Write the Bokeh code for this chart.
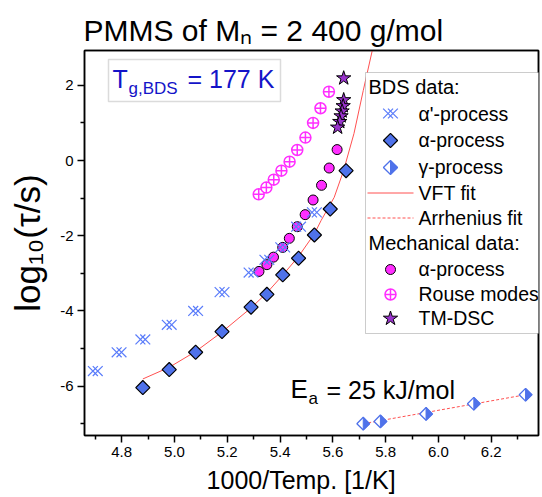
import numpy as np
from bokeh.plotting import figure
from bokeh.models import (Label, BoxAnnotation, FixedTicker, LinearAxis,
                          PrintfTickFormatter, ColumnDataSource, Range1d)
from bokeh.transform import dodge
from bokeh.embed import file_html
from bokeh.resources import INLINE

# ---------------- data ----------------
alpha_prime_x = [4.70, 4.79, 4.88, 4.98, 5.08, 5.18, 5.29, 5.35, 5.41, 5.47, 5.53]
alpha_prime_y = [-5.60, -5.10, -4.76, -4.37, -4.00, -3.50, -2.98, -2.64, -2.31, -1.76, -1.38]

alpha_bds_x = [4.88, 4.98, 5.08, 5.18, 5.29, 5.35, 5.41, 5.47, 5.53, 5.59, 5.65]
alpha_bds_y = [-6.04, -5.56, -5.10, -4.55, -3.90, -3.56, -3.04, -2.60, -1.98, -1.29, -0.27]

gamma_x = [5.715, 5.78, 5.953, 6.134, 6.33]
gamma_y = [-7.00, -6.94, -6.74, -6.47, -6.23]

vft_x = [4.88, 4.98, 5.08, 5.18, 5.29, 5.35, 5.41, 5.47, 5.53, 5.555, 5.605, 5.64, 5.68, 5.715, 5.75]
vft_y = [-5.81, -5.50, -5.08, -4.56, -3.92, -3.52, -3.05, -2.55, -1.95, -1.60, -0.98, -0.28, 0.72, 1.86, 2.95]

arr_x = [5.715, 6.33]
arr_y = [-7.00, -6.23]

mech_alpha_x = [5.32, 5.35, 5.375, 5.41, 5.435, 5.465, 5.495, 5.525, 5.557, 5.586, 5.616]
mech_alpha_y = [-2.95, -2.77, -2.57, -2.31, -2.07, -1.76, -1.44, -1.05, -0.66, -0.20, 0.29]

rouse_x = [5.319, 5.348, 5.376, 5.405, 5.436, 5.465, 5.496, 5.525, 5.553, 5.585]
rouse_y = [-0.90, -0.72, -0.51, -0.27, -0.03, 0.28, 0.61, 1.00, 1.39, 1.83]

tmdsc_x = [5.641, 5.641, 5.639, 5.635, 5.631, 5.626, 5.618]
tmdsc_y = [2.19, 1.61, 1.45, 1.31, 1.18, 1.03, 0.88]

x_ticks = [4.8, 5.0, 5.2, 5.4, 5.6, 5.8, 6.0, 6.2]
x_minor = [4.7, 4.9, 5.1, 5.3, 5.5, 5.7, 5.9, 6.1, 6.3]
y_ticks = [-6, -4, -2, 0, 2]
y_minor = [-7, -5, -3, -1, 1]

legend_labels = ["\u03b1'-process", "\u03b1-process", "\u03b3-process", "VFT fit",
                 "Arrhenius fit", "\u03b1-process", "Rouse modes", "TM-DSC"]
legend_headers = ["BDS data:", "Mechanical data:"]

# ---------------- layout ----------------
X0, X1 = 4.659, 6.379
Y0, Y1 = -7.314, 2.926
L, T, FW, FH = 84, 50, 454, 385
PXX = (X1 - X0) / FW   # data units per pixel
PXY = (Y1 - Y0) / FH


def dx(px):
    return X0 + (px - L) * PXX


def dy(py):
    return Y1 - (py - T) * PXY


FONT = "Liberation Sans"
BLUE = "#4F72EA"
XBLUE = "#5A7CFA"
MAG = "#FF2EFF"
RED = "#FF5050"
PURPLE = "#9933CC"

p = figure(frame_width=FW, frame_height=FH, min_border_left=L, min_border_top=T,
           min_border_right=4, min_border_bottom=62,
           x_range=Range1d(X0, X1), y_range=Range1d(Y0, Y1),
           output_backend="svg", toolbar_location=None)
p.xgrid.visible = False
p.ygrid.visible = False
p.outline_line_color = "black"
p.outline_line_width = 1.5
p.background_fill_color = "white"
p.border_fill_color = "white"

for ax in (p.xaxis[0], p.yaxis[0]):
    ax.axis_line_width = 1.5
    ax.axis_line_color = "black"
    ax.major_tick_line_width = 1.5
    ax.minor_tick_line_width = 1.5
    ax.major_tick_line_color = "black"
    ax.minor_tick_line_color = "black"
    ax.major_tick_out = 7
    ax.major_tick_in = 0
    ax.minor_tick_out = 4
    ax.minor_tick_in = 0
    ax.major_label_text_font = FONT
    ax.major_label_text_font_size = "15px"
    ax.major_label_text_color = "black"
    ax.major_label_standoff = 4
    ax.axis_label_text_font = FONT
    ax.axis_label_text_font_style = "normal"
    ax.axis_label_text_color = "black"

p.xaxis[0].ticker = FixedTicker(ticks=x_ticks, minor_ticks=x_minor)
p.xaxis[0].formatter = PrintfTickFormatter(format="%.1f")
p.yaxis[0].ticker = FixedTicker(ticks=y_ticks, minor_ticks=y_minor)
p.yaxis[0].formatter = PrintfTickFormatter(format="%d")

p.xaxis[0].axis_label = "1000/Temp. [1/K]\u00a0\u00a0\u00a0"
p.xaxis[0].axis_label_text_font_size = "25px"
p.xaxis[0].axis_label_standoff = 6
p.yaxis[0].axis_label = "log\u2081\u2080(\u03c4/s)"
p.yaxis[0].axis_label_text_font_size = "35px"
p.yaxis[0].axis_label_standoff = 10

# frame lines on top and right
for side in ("above", "right"):
    fa = LinearAxis(ticker=FixedTicker(ticks=[]), axis_line_width=1.5, axis_line_color="black",
                    major_tick_out=0, minor_tick_out=0, major_tick_in=0, minor_tick_in=0,
                    major_label_text_font_size="0px", major_label_standoff=0,
                    axis_label_standoff=0)
    p.add_layout(fa, side)

p.title.text = "PMMS of M\u2099 = 2 400 g/mol"
p.title.text_font = FONT
p.title.text_font_size = "30px"
p.title.text_font_style = "normal"
p.title.text_color = "black"
p.title.align = "left"
p.title.offset = -1
p.title.standoff = 8

# ---------------- data glyphs ----------------
p.line(vft_x, vft_y, line_color=RED, line_width=1)
p.line(arr_x, arr_y, line_color=RED, line_width=1, line_dash="3 2")

p.scatter(mech_alpha_x, mech_alpha_y, marker="circle", size=10,
          fill_color=MAG, line_color="black", line_width=1)
p.scatter(rouse_x, rouse_y, marker="circle_cross", size=11,
          fill_color="white", line_color=MAG, line_width=1.5)

ap_src = ColumnDataSource(dict(x=alpha_prime_x, y=alpha_prime_y))
off = 2.4 * PXX
XSIZE = 14
for o in (-off, off):
    p.scatter(x=dodge("x", o), y="y", source=ap_src, marker="x", size=XSIZE,
              line_color=XBLUE, line_width=1.2)

p.scatter(alpha_bds_x, alpha_bds_y, marker="square", angle=np.pi / 4, size=10,
          fill_color=BLUE, line_color="black", line_width=1.2)

p.scatter(gamma_x, gamma_y, marker="square", angle=np.pi / 4, size=9,
          fill_color="white", line_color=BLUE, line_width=1.3)
R = 6.4
p.patches([[gx, gx + R * PXX, gx] for gx in gamma_x],
          [[gy + R * PXY, gy, gy - R * PXY] for gy in gamma_y],
          fill_color=BLUE, line_color=BLUE, line_width=1)

p.scatter(tmdsc_x, tmdsc_y, marker="star", size=15,
          fill_color=PURPLE, line_color="black", line_width=1)

# ---------------- legend (box, samples, texts) ----------------
p.add_layout(BoxAnnotation(left=dx(365), right=dx(538.5), top=dy(72), bottom=dy(333),
                           fill_color="white", fill_alpha=1.0, line_color="#555555",
                           line_width=1))

SX = 390          # sample centre (px)
rows = [113, 140, 167, 192, 217, 269, 294, 318]          # sample centres (px)
base = [120, 146.5, 173, 199, 224, 275.5, 300.5, 324.5]  # text baselines (px)
cx = dx(SX)


def sample(row, **kw):
    r = p.scatter([cx], [dy(rows[row])], **kw)
    r.level = "overlay"
    return r


for o in (-off, off):
    sample(0, marker="x", size=XSIZE, line_color=XBLUE, line_width=1.2).glyph.x = cx + o
sample(1, marker="square", angle=np.pi / 4, size=10, fill_color=BLUE,
       line_color="black", line_width=1.2)
sample(2, marker="square", angle=np.pi / 4, size=10, fill_color="white",
       line_color=BLUE, line_width=1.3)
gp = p.patch([cx, cx + 7 * PXX, cx], [dy(rows[2]) + 7 * PXY, dy(rows[2]), dy(rows[2]) - 7 * PXY],
             fill_color=BLUE, line_color=BLUE, line_width=1)
gp.level = "overlay"
for row, dash in ((3, "solid"), (4, "3 2")):
    lr = p.line([dx(367), dx(413)], [dy(rows[row] + 0.5)] * 2, line_color=RED, line_width=1,
                line_dash=dash)
    lr.level = "overlay"
sample(5, marker="circle", size=10, fill_color=MAG, line_color="black", line_width=1)
sample(6, marker="circle_cross", size=11, fill_color="white", line_color=MAG, line_width=1.5)
sample(7, marker="star", size=15, fill_color=PURPLE, line_color="black", line_width=1)

KB = 0.35   # correction: rendered alphabetic baseline sits lower than requested


def lab(px, py, text, size, color="black"):
    p.add_layout(Label(x=dx(px), y=dy(py - KB * size), text=text, text_font=FONT,
                       text_font_size=f"{size}px", text_color=color,
                       text_baseline="alphabetic", text_align="left"))


lab(368, 93.5, legend_headers[0], 20)
lab(368, 249.5, legend_headers[1], 20)
for t, b in zip(legend_labels, base):
    lab(418, b, t, 19.5)

# ---------------- text annotations inside the frame ----------------
p.add_layout(BoxAnnotation(left=dx(108), right=dx(280), top=dy(59), bottom=dy(101),
                           fill_alpha=0, line_color="#888888", line_width=1.5))
TGC = "#1414C8"
lab(112, 87, "T", 25, TGC)
lab(128, 94, "g,BDS", 17, TGC)
lab(187, 87, "= 177 K", 25, TGC)

lab(290, 398, "E", 26)
lab(308, 404, "a", 17)
lab(326, 398, "= 25 kJ/mol", 25)

open("out.html", "w").write(file_html(p, INLINE))
